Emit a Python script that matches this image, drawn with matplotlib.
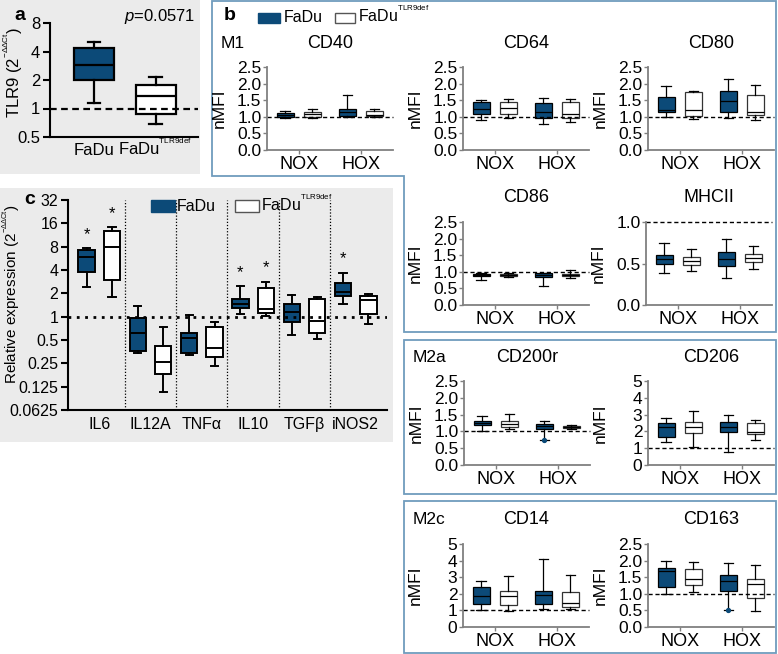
import matplotlib
matplotlib.use('Agg')
import matplotlib.pyplot as plt
from matplotlib.patches import Rectangle, Polygon

W, H = 778, 654
plt.rcParams['font.family'] = ['Liberation Sans', 'DejaVu Sans']
plt.rcParams['mathtext.fontset'] = 'custom'
plt.rcParams['mathtext.rm'] = 'Liberation Sans'
plt.rcParams['mathtext.it'] = 'Liberation Sans:italic'
plt.rcParams['mathtext.bf'] = 'Liberation Sans:bold'

DARK = '#0c4a78'
GRAY_BG = '#ebebeb'
BORDER = '#6f9cbd'
SPINE_B = '#808080'

SUP_DEF = r'FaDu$^{{}^{\mathrm{TLR9def}}}$'
SUP_CT = r'(2$^{{}^{-\Delta\Delta \mathrm{Ct}}}$)'

# ---------------- data ----------------
# box stats: [whislo, q1, median, q3, whishi]
tlr9_groups = ['FaDu', SUP_DEF]
tlr9_fadu = [1.15, 2.0, 2.9, 4.4, 5.1]
tlr9_def = [0.68, 0.87, 1.37, 1.76, 2.15]

genes = ['IL6', 'IL12A', 'TNFα', 'IL10', 'TGFβ', 'iNOS2']
genes_fadu = [[2.44, 3.8, 5.95, 7.25, 7.6],
              [0.34, 0.36, 0.62, 0.97, 1.39],
              [0.32, 0.34, 0.53, 0.62, 1.05],
              [1.07, 1.28, 1.46, 1.69, 2.49],
              [0.58, 0.86, 1.14, 1.46, 1.9],
              [1.46, 1.87, 2.1, 2.74, 3.7]]
genes_def = [[1.79, 2.98, 8.0, 12.9, 14.2],
             [0.108, 0.18, 0.26, 0.42, 0.73],
             [0.23, 0.30, 0.40, 0.73, 0.86],
             [1.02, 1.11, 1.26, 2.32, 2.83],
             [0.51, 0.61, 0.89, 1.69, 1.78],
             [0.8, 1.07, 1.64, 1.85, 1.96]]
genes_star_fadu = [True, False, False, True, False, True]
genes_star_def = [True, False, False, True, False, False]

conditions = ['NOX', 'HOX']
# order: FaDu NOX, TLR9def NOX, FaDu HOX, TLR9def HOX
cd40 = [[0.95, 1.00, 1.06, 1.12, 1.17], [0.97, 1.00, 1.07, 1.14, 1.24],
        [0.98, 1.03, 1.14, 1.24, 1.66], [0.98, 1.02, 1.06, 1.17, 1.24]]
cd64 = [[0.90, 1.07, 1.23, 1.46, 1.50], [0.95, 1.07, 1.26, 1.45, 1.53],
        [0.78, 0.95, 1.15, 1.41, 1.57], [0.85, 0.95, 1.08, 1.44, 1.54]]
cd80 = [[1.00, 1.13, 1.20, 1.60, 1.92], [0.92, 1.03, 1.20, 1.75, 1.77],
        [0.97, 1.15, 1.48, 1.79, 2.13], [0.90, 1.05, 1.13, 1.66, 1.95]]
cd86 = [[0.74, 0.86, 0.89, 0.92, 0.95], [0.83, 0.87, 0.90, 0.93, 0.97],
        [0.58, 0.85, 0.90, 0.95, 0.95], [0.80, 0.87, 0.89, 0.93, 1.05]]
mhcii = [[0.38, 0.50, 0.55, 0.60, 0.75], [0.41, 0.48, 0.53, 0.58, 0.67],
         [0.33, 0.47, 0.55, 0.64, 0.79], [0.43, 0.52, 0.57, 0.62, 0.71]]
cd200r = [[1.00, 1.20, 1.26, 1.31, 1.46], [1.08, 1.13, 1.23, 1.31, 1.51],
          [0.73, 1.08, 1.16, 1.22, 1.31], [1.06, 1.09, 1.12, 1.15, 1.20]]
cd200r_fliers = [[], [], [0.73], []]
cd206 = [[1.39, 1.65, 2.24, 2.48, 2.78], [1.10, 1.89, 2.28, 2.58, 3.23],
         [0.76, 1.98, 2.24, 2.58, 2.98], [1.49, 1.83, 1.98, 2.48, 2.68]]
cd14 = [[1.04, 1.40, 1.84, 2.38, 2.78], [0.94, 1.30, 1.84, 2.18, 3.08],
        [1.10, 1.38, 1.94, 2.18, 4.08], [1.10, 1.20, 1.44, 2.10, 3.14]]
cd163 = [[0.99, 1.20, 1.69, 1.79, 2.00], [1.04, 1.27, 1.44, 1.74, 1.95],
         [0.50, 1.09, 1.39, 1.57, 1.93], [0.49, 0.87, 1.29, 1.45, 1.87]]
cd163_fliers = [[], [], [0.50], []]

# ---------------- figure ----------------
fig = plt.figure(figsize=(W / 100, H / 100), dpi=100)
bg = fig.add_axes([0, 0, 1, 1])
bg.set_xlim(0, W)
bg.set_ylim(H, 0)
bg.axis('off')

bg.add_patch(Rectangle((0, 0), 200, 174, facecolor=GRAY_BG, edgecolor='none'))
bg.add_patch(Rectangle((0, 188), 393, 254, facecolor=GRAY_BG, edgecolor='none'))
bg.add_patch(Polygon([(212, 1), (776, 1), (776, 332), (404, 332), (404, 176), (212, 176)],
                     closed=True, fill=False, edgecolor=BORDER, lw=1.3))
bg.add_patch(Rectangle((404, 340), 372, 154, fill=False, edgecolor=BORDER, lw=1.3))
bg.add_patch(Rectangle((404, 501), 372, 152, fill=False, edgecolor=BORDER, lw=1.3))


def ax_px(x0, y0, x1, y1):
    a = fig.add_axes([x0 / W, 1 - y1 / H, (x1 - x0) / W, (y1 - y0) / H])
    a.patch.set_alpha(0)
    return a


def draw_boxes(ax, stats, positions, width, capw, lw, fliers=None, white_edge='black'):
    st = []
    for i, s in enumerate(stats):
        st.append(dict(whislo=s[0], q1=s[1], med=s[2], q3=s[3], whishi=s[4],
                       fliers=(fliers[i] if fliers else [])))
    r = ax.bxp(st, positions=positions, widths=width, capwidths=capw,
               patch_artist=True, showfliers=True,
               boxprops=dict(linewidth=lw, edgecolor='black'),
               whiskerprops=dict(linewidth=lw, color='black'),
               capprops=dict(linewidth=lw, color='black'),
               medianprops=dict(linewidth=lw, color='black'),
               flierprops=dict(marker='o', markersize=2.8, markerfacecolor=DARK,
                               markeredgecolor=DARK))
    for i, b in enumerate(r['boxes']):
        if i % 2 == 0:
            b.set_facecolor(DARK)
        else:
            b.set_facecolor('white')
            b.set_edgecolor(white_edge)
    return r


# ---------------- panel a ----------------
axa = ax_px(50, 23, 198, 137)
axa.set_yscale('log', base=2)
draw_boxes(axa, [tlr9_fadu, tlr9_def], [1, 2], 0.65, 0.2, 1.6)
axa.axhline(1, color='black', lw=1.6, ls=(0, (3, 2)))
axa.set_ylim(0.5, 8)
axa.set_xlim(0.285, 2.69)
axa.set_yticks([0.5, 1, 2, 4, 8])
axa.set_yticklabels(['0.5', '1', '2', '4', '8'])
axa.yaxis.set_minor_locator(matplotlib.ticker.NullLocator())
axa.set_xticks([1, 2])
axa.set_xticklabels(tlr9_groups)
for lab in axa.get_xticklabels():
    lab.set_verticalalignment('baseline')
for s in ['top', 'right']:
    axa.spines[s].set_visible(False)
for s in ['left', 'bottom']:
    axa.spines[s].set_linewidth(1.5)
axa.tick_params(axis='y', length=5, width=1.5, labelsize=12, pad=2)
axa.tick_params(axis='x', length=0, labelsize=12, pad=13)
bg.text(20, 15, 'a', fontsize=14, fontweight='bold', ha='center', va='center')
bg.text(160, 16, r'$\it{p}$=0.0571', fontsize=12, ha='center', va='center')
bg.text(13, 72, 'TLR9 ' + SUP_CT, fontsize=12, rotation=90,
        ha='center', va='center')

# ---------------- panel c ----------------
axc = ax_px(68, 200, 387, 410)
axc.set_yscale('log', base=2)
xs = list(range(len(genes)))
off = 0.247
draw_boxes(axc, [v for pair in zip(genes_fadu, genes_def) for v in pair],
           [p + d for p in xs for d in (-off, off)], 0.32, 0.14, 1.4)
axc.axhline(1, color='black', lw=2.0, ls=(0, (1, 2)))
for i in range(len(genes) - 1):
    axc.axvline(i + 0.5, color='black', lw=0.9, ls=(0, (1, 1.5)))
axc.set_ylim(0.0625, 32)
axc.set_xlim(-0.61, 5.61)
cticks = [0.0625, 0.125, 0.25, 0.5, 1, 2, 4, 8, 16, 32]
axc.set_yticks(cticks)
axc.set_yticklabels(['0.0625', '0.125', '0.25', '0.5', '1', '2', '4', '8', '16', '32'])
axc.yaxis.set_minor_locator(matplotlib.ticker.NullLocator())
axc.set_xticks(xs)
axc.set_xticklabels(genes)
for s in ['top', 'right']:
    axc.spines[s].set_visible(False)
for s in ['left', 'bottom']:
    axc.spines[s].set_linewidth(1.5)
axc.tick_params(axis='y', length=5, width=1.5, labelsize=11.5, pad=2)
axc.tick_params(axis='x', length=0, labelsize=11.5, pad=5)
for i in xs:
    if genes_star_fadu[i]:
        axc.text(i - off, genes_fadu[i][4] * 1.2, '*', ha='center', va='bottom', fontsize=12)
    if genes_star_def[i]:
        axc.text(i + off, genes_def[i][4] * 1.2, '*', ha='center', va='bottom', fontsize=12)
bg.text(30, 200, 'c', fontsize=14, fontweight='bold', ha='center', va='center')
bg.text(11, 294, 'Relative expression ' + SUP_CT, fontsize=11,
        rotation=90, ha='center', va='center')
bg.add_patch(Rectangle((151, 200), 24, 12, facecolor=DARK, edgecolor=DARK, lw=1))
bg.add_patch(Rectangle((235, 200), 24, 12, facecolor='white', edgecolor='#555555', lw=1))
bg.text(177, 211, 'FaDu', fontsize=11.5, ha='left', va='baseline')
bg.text(261, 211, SUP_DEF, fontsize=11.5, ha='left', va='baseline')

# ---------------- panel b ----------------
bg.text(230, 16, 'b', fontsize=14, fontweight='bold', ha='center', va='center')
bg.add_patch(Rectangle((258, 13), 22, 10, facecolor=DARK, edgecolor=DARK, lw=1))
bg.add_patch(Rectangle((335, 13), 20, 10, facecolor='white', edgecolor='#555555', lw=1))
bg.text(284, 22.5, 'FaDu', fontsize=11.5, ha='left', va='baseline')
bg.text(358, 22.5, SUP_DEF, fontsize=11.5, ha='left', va='baseline')
bg.text(221, 43, 'M1', fontsize=12.5, ha='left', va='center')
bg.text(413, 357, 'M2a', fontsize=12.5, ha='left', va='center')
bg.text(413, 520, 'M2c', fontsize=12.5, ha='left', va='center')

boff = 0.218


def b_panel(x0, y0, y1, title, stats, ymax, yticks, ylabels, fliers=None):
    ax = ax_px(x0, y0, x0 + 126, y1)
    draw_boxes(ax, stats, [1 - boff, 1 + boff, 2 - boff, 2 + boff], 0.27, 0.15, 0.9,
               fliers=fliers, white_edge='#333333')
    ax.axhline(1, color='black', lw=1.0, ls=(0, (3, 2)), clip_on=False)
    ax.set_xlim(0.49, 2.52)
    ax.set_ylim(0, ymax)
    ax.set_yticks(yticks)
    ax.set_yticklabels(ylabels)
    ax.set_xticks([1, 2])
    ax.set_xticklabels(conditions)
    for s in ['top', 'right']:
        ax.spines[s].set_visible(False)
    for s in ['left', 'bottom']:
        ax.spines[s].set_linewidth(1.3)
        ax.spines[s].set_color(SPINE_B)
    ax.tick_params(axis='y', length=3, width=1.0, color=SPINE_B, labelsize=12.5, pad=1)
    ax.tick_params(axis='x', length=3, width=1.0, color=SPINE_B, labelsize=13, pad=1)
    ax.set_ylabel('nMFI', fontsize=12.5)
    ax.yaxis.set_label_coords(-40 / 126, 0.5)
    bg.text(x0 + 63, y0 - 24, title, fontsize=13, ha='center', va='center')
    return ax


t25 = [0, 0.5, 1.0, 1.5, 2.0, 2.5]
l25 = ['0.0', '0.5', '1.0', '1.5', '2.0', '2.5']
t5 = [0, 1, 2, 3, 4, 5]
l5 = ['0', '1', '2', '3', '4', '5']

b_panel(267, 67, 150, 'CD40', cd40, 2.5, t25, l25)
b_panel(463, 67, 150, 'CD64', cd64, 2.5, t25, l25)
b_panel(648, 67, 150, 'CD80', cd80, 2.5, t25, l25)
b_panel(463, 222, 305, 'CD86', cd86, 2.5, t25, l25)
b_panel(646, 222, 305, 'MHCII', mhcii, 1.0, [0, 0.5, 1.0], ['0.0', '0.5', '1.0'])
b_panel(464, 381, 465, 'CD200r', cd200r, 2.5, t25, l25, fliers=cd200r_fliers)
b_panel(648, 381, 465, 'CD206', cd206, 5, t5, l5)
b_panel(463, 544, 627, 'CD14', cd14, 5, t5, l5)
b_panel(648, 544, 627, 'CD163', cd163, 2.5, t25, l25, fliers=cd163_fliers)

fig.savefig('out.png', dpi=100)
